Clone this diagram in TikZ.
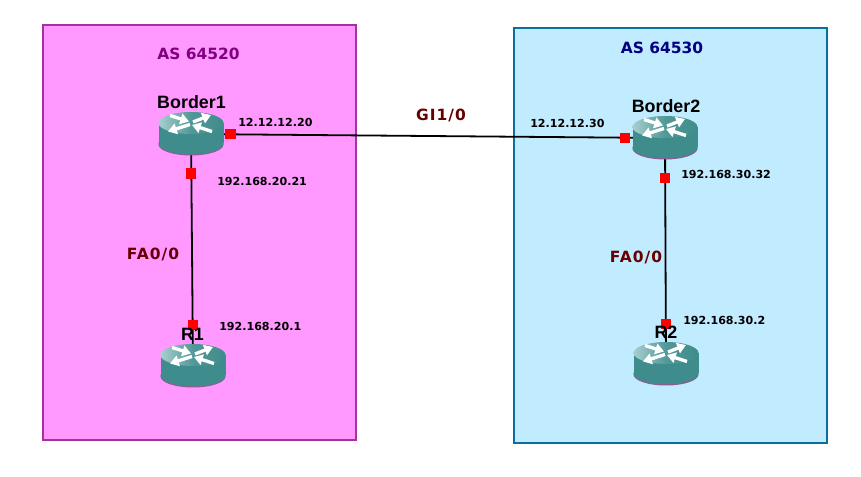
\documentclass[tikz,border=0pt]{standalone}
\usepackage{fontspec}
\setmainfont{DejaVu Sans}
\newfontfamily\hdfont{Liberation Sans}
\usetikzlibrary{arrows.meta}
\definecolor{pinkzone}{HTML}{FF99FF}
\definecolor{pinkedge}{HTML}{A5309F}
\definecolor{bluezone}{HTML}{C1EBFF}
\definecolor{blueedge}{HTML}{0A6E9E}
\definecolor{tealbody}{HTML}{3F8C8C}
\definecolor{teallight}{HTML}{A8CFCF}
\definecolor{routeredge}{HTML}{8A5F96}
\definecolor{linkred}{HTML}{660000}
\definecolor{asone}{HTML}{800080}
\definecolor{astwo}{HTML}{000080}
\tikzset{
  x=0.75pt,y=-0.75pt,
  zone/.style={line width=1.1pt},
  link/.style={draw=black,line width=1.35pt},
  port/.style={fill=red,inner sep=0pt,minimum size=8pt,draw=none},
  iplabel/.style={font=\bfseries\fontsize{8.3pt}{10pt}\selectfont,inner sep=0pt,text=black},
  hostlabel/.style={font=\hdfont\bfseries\fontsize{13.4pt}{15pt}\selectfont,inner sep=0pt,text=black},
  aslabel/.style={font=\bfseries\fontsize{11.6pt}{14pt}\selectfont,inner sep=0pt},
  iflabel/.style={font=\bfseries\fontsize{11.6pt}{14pt}\selectfont\addfontfeature{LetterSpace=7},inner sep=0pt,text=linkred},
  anchorpt/.style={inner sep=0pt,minimum size=0pt},
  rarrow/.style={draw=white,line width=2.5pt,-{Triangle[length=6.5pt,width=8pt]}},
  routerpic/.pic={
    \fill[routeredge] (0,10.5) ellipse [x radius=32.5,y radius=11];
    \fill[tealbody] (0,9.5) ellipse [x radius=32.5,y radius=10.6];
    \fill[tealbody] (-32.5,-11) rectangle (32.5,9.5);
    \shade[left color=teallight,right color=tealbody,middle color=tealbody!90!white] (0,-11) ellipse [x radius=32.5,y radius=11];
    \draw[rarrow] (-21,-18.5) -- (-2,-12.5);
    \draw[rarrow] (2,-12) -- (20,-19);
    \draw[rarrow] (-1,-9.5) -- (-23,-2.5);
    \draw[rarrow] (21,-2.5) -- (1,-9);
  }
}
\begin{document}
\begin{tikzpicture}
\useasboundingbox (0,0) rectangle (861,477);
\fill[white] (0,0) rectangle (861,477);
\draw[zone,draw=pinkedge,fill=pinkzone] (43,25) rectangle (356,440);
\draw[zone,draw=blueedge,fill=bluezone] (514,28) rectangle (827,443);

\node[anchorpt] (b1) at (191,134) {};
\node[anchorpt] (b2) at (665,138) {};
\node[anchorpt] (r1) at (193,365) {};
\node[anchorpt] (r2) at (666,364) {};

\draw[link] (b1.center) -- (b2.center);
\draw[link] (b1.center) -- (r1.center);
\draw[link] (b2.center) -- (r2.center);

\pic at (191,134) {routerpic};
\pic at (665,138) {routerpic};
\pic at (193,366) {routerpic};
\pic at (666,364) {routerpic};

\node[port] (p1) at (230.5,134) {};
\node[port] (p2) at (191,173.5) {};
\node[port] (p3) at (193,325) {};
\node[port] (p4) at (625,138) {};
\node[port] (p5) at (665,178) {};
\node[port] (p6) at (666,324) {};

\node[hostlabel] (hb1) at (191.5,102) {Border1};
\node[hostlabel] (hb2) at (666,106) {Border2};
\node[hostlabel] (hr1) at (192.5,334) {R1};
\node[hostlabel] (hr2) at (666,332) {R2};

\node[aslabel,text=asone] (as1) at (198.5,54) {AS 64520};
\node[aslabel,text=astwo] (as2) at (662,48) {AS 64530};

\node[iflabel] (gi) at (441,115) {GI1/0};
\node[iflabel] (fa1) at (153,254) {FA0/0};
\node[iflabel] (fa2) at (636,257) {FA0/0};

\node[iplabel,anchor=west] (ip1) at (238,122.5) {12.12.12.20};
\node[iplabel,anchor=west] (ip2) at (530,123) {12.12.12.30};
\node[iplabel,anchor=west] (ip3) at (217,181) {192.168.20.21};
\node[iplabel,anchor=west] (ip4) at (681,174) {192.168.30.32};
\node[iplabel,anchor=west] (ip5) at (219,326) {192.168.20.1};
\node[iplabel,anchor=west] (ip6) at (683,320) {192.168.30.2};
\end{tikzpicture}
\end{document}
